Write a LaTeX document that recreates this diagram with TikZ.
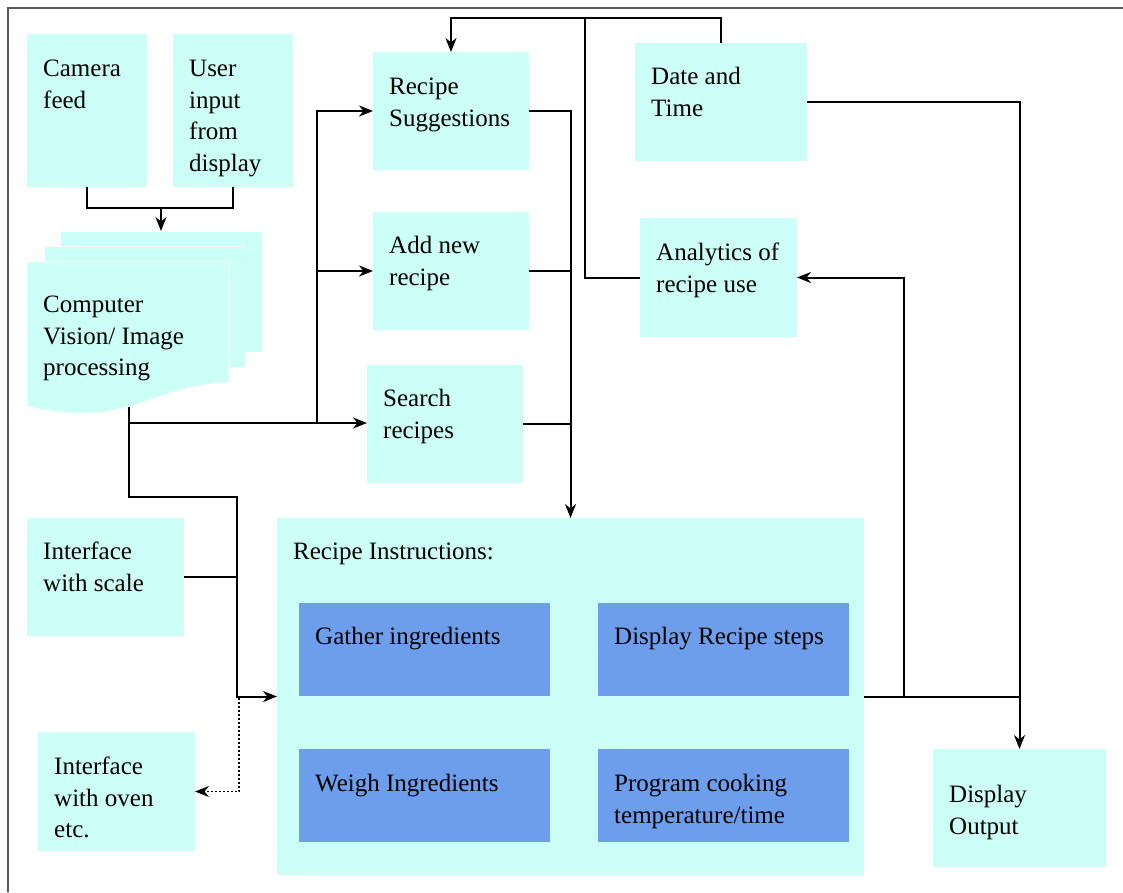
\documentclass[tikz,border=0pt]{standalone}
\usepackage{fontspec}
\newfontfamily\dfont{Liberation Serif}
\usetikzlibrary{arrows.meta,calc}
\definecolor{lcyan}{RGB}{204,255,245}
\definecolor{cblue}{RGB}{109,158,235}
\begin{document}
\begin{tikzpicture}[x=1pt,y=-1pt,
  cbox/.style={fill=lcyan, inner sep=0pt, outer sep=0pt, anchor=north west},
  bbox/.style={fill=cblue, inner sep=0pt, outer sep=0pt, anchor=north west},
  txt/.style={anchor=north west, inner sep=0pt, align=left, font=\dfont\fontsize{25}{31.5}\selectfont, execute at begin node=\strut},
  sheet/.style={fill=lcyan, draw=white, line width=0.6pt},
  wire/.style={line width=2pt},
  conn/.style={line width=2pt, -{Stealth[length=14pt,width=11pt,inset=4.5pt]}},
  frame/.style={draw=black!65, line width=1.8pt}
]
\useasboundingbox (0,0) rectangle (1123,892);
\draw[frame] (8,892) -- (8,8) -- (1123,8);

% boxes
\node[cbox, minimum width=120pt, minimum height=153pt] (cam) at (27,34) {};
\node[txt] at ($(cam.north west)+(16,26)$) {Camera\\feed};
\node[cbox, minimum width=120pt, minimum height=153pt] (user) at (173,34) {};
\node[txt] at ($(user.north west)+(16,26)$) {User\\input\\from\\display};

% multi document
\node[sheet, inner sep=0pt, outer sep=0pt, anchor=north west, minimum width=202pt, minimum height=121pt] (cv3) at (60,231) {};
\node[sheet, inner sep=0pt, outer sep=0pt, anchor=north west, minimum width=201pt, minimum height=121pt] (cv2) at (44,246) {};
\node[inner sep=0pt, outer sep=0pt, anchor=north west, minimum width=202pt, minimum height=150pt] (cv) at (27,262) {};
\draw[sheet] (cv.north west) -- (cv.north east) -- ($(cv.north east)+(0,121)$)
  .. controls ($(cv.north west)+(143,121)$) and ($(cv.north west)+(113,151)$) .. ($(cv.north west)+(58,151)$)
  .. controls ($(cv.north west)+(33,151)$) and ($(cv.north west)+(13,148)$) .. ($(cv.north west)+(0,144)$) -- cycle;
\node[txt] at ($(cv.north west)+(16,34)$) {Computer\\Vision/ Image\\processing};

\node[cbox, minimum width=156pt, minimum height=118pt] (rs) at (373,52) {};
\node[txt] at ($(rs.north west)+(16,26)$) {Recipe\\Suggestions};
\node[cbox, minimum width=156pt, minimum height=118pt] (add) at (373,212) {};
\node[txt] at ($(add.north west)+(16,24)$) {Add new\\recipe};
\node[cbox, minimum width=156pt, minimum height=118pt] (search) at (367,365) {};
\node[txt] at ($(search.north west)+(16,24)$) {Search\\recipes};
\node[cbox, minimum width=172pt, minimum height=118pt] (dt) at (635,43) {};
\node[txt] at ($(dt.north west)+(16,24)$) {Date and\\Time};
\node[cbox, minimum width=157pt, minimum height=119pt] (an) at (640,218) {};
\node[txt] at ($(an.north west)+(16,25)$) {Analytics of\\recipe use};
\node[cbox, minimum width=157pt, minimum height=118pt] (scale) at (27,518) {};
\node[txt] at ($(scale.north west)+(16,24)$) {Interface\\with scale};
\node[cbox, minimum width=157pt, minimum height=119pt] (oven) at (38,732) {};
\node[txt] at ($(oven.north west)+(16,25)$) {Interface\\with oven\\etc.};
\node[cbox, minimum width=173pt, minimum height=118pt] (out) at (933,749) {};
\node[txt] at ($(out.north west)+(16,36)$) {Display\\Output};

\node[cbox, minimum width=587pt, minimum height=357pt] (ri) at (277,518) {};
\node[txt] at ($(ri.north west)+(16,19)$) {Recipe Instructions:};
\node[bbox, minimum width=251pt, minimum height=93pt] (gather) at (299,603) {};
\node[txt] at ($(gather.north west)+(16,19)$) {Gather ingredients};
\node[bbox, minimum width=251pt, minimum height=93pt] (steps) at (598,603) {};
\node[txt] at ($(steps.north west)+(16,19)$) {Display Recipe steps};
\node[bbox, minimum width=251pt, minimum height=93pt] (weigh) at (299,749) {};
\node[txt] at ($(weigh.north west)+(16,20)$) {Weigh Ingredients};
\node[bbox, minimum width=251pt, minimum height=93pt] (prog) at (598,749) {};
\node[txt] at ($(prog.north west)+(16,25)$) {Program cooking\\temperature/time};

% junction coordinates
\coordinate (jtop) at (161,208);
\coordinate (cvout) at (129,407);
\coordinate (cvj) at (129,423);
\coordinate (b1) at (317,423);
\coordinate (k1) at (129,497);
\coordinate (k2) at (237,696.5);
\coordinate (dot) at (239,698);
\coordinate (top) at (585,18);
\coordinate (rb) at (904,696.5);

% connectors
\draw[wire] (cam.south) |- (jtop) -| (user.south);
\draw[conn] (jtop) -- (cv3.north);
\draw[wire] (cvout) -- (cvj);
\draw[conn] (cvj) -- (cvj -| search.west);
\draw[conn] (b1) |- (rs.west);
\draw[conn] (b1 |- add.west) -- (add.west);
\draw[conn] (cvj) -- (k1) -| (k2) -- (k2 -| ri.west);
\draw[wire] (scale.east) -- (scale.east -| k2);
\draw[conn, dotted, line width=1.4pt] (dot) |- (oven.east);

\draw[conn] (rs.east) -| (ri.north);
\draw[wire] (add.east) -- (add.east -| ri.north);
\draw[wire] (search.east) -- (search.east -| ri.north);
\draw[conn] (dt.north) |- (top) -| (rs.north);
\draw[wire] (top) |- (an.west);
\draw[conn] (dt.east) -| (out.north);
\draw[wire] (ri.east) -- (ri.east -| out.north);
\draw[conn] (rb) |- (an.east);
\end{tikzpicture}
\end{document}
